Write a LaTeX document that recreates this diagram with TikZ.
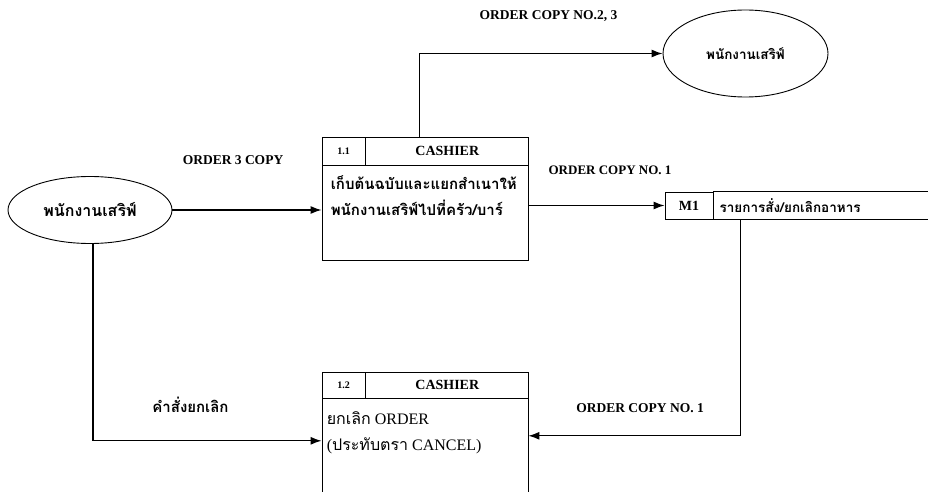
\documentclass[tikz,border=0pt]{standalone}
\usepackage{fontspec}
\setmainfont{Liberation Serif}
\newfontfamily\thai[Script=Thai]{Loma}
\usetikzlibrary{arrows.meta,positioning,shapes.geometric}

\tikzset{
  actor/.style={draw, ellipse, line width=0.9pt, inner sep=0pt},
  cell/.style={draw, rectangle, line width=0.8pt, inner sep=0pt, font=\bfseries\fontsize{14}{16}\selectfont},
  flow/.style={line width=1.3pt, -{Latex[length=11pt,width=8pt]}},
  tag/.style={font=\bfseries\fontsize{13.5}{15}\selectfont},
  thaitext/.style={align=left, inner sep=0pt, font=\thai\bfseries\fontsize{15}{26}\selectfont}
}

\begin{document}
\begin{tikzpicture}[x=1pt,y=-1pt]
  % Page frame
  \clip (0,0) rectangle (928,492);
  % Draw the two waiter terminals
  \node[actor, minimum width=164pt, minimum height=67pt,
        font=\thai\bfseries\fontsize{16}{18}\selectfont] (waiter) at (90,210) {พนักงานเสริฟ์};
  \node[actor, minimum width=165pt, minimum height=87pt,
        font=\thai\bfseries\fontsize{13.5}{15}\selectfont] (waiterout) at (745.5,53.5) {พนักงานเสริฟ์};
  % Process 1.1
  \node[cell, minimum width=43pt, minimum height=28pt, font=\bfseries\fontsize{10}{12}\selectfont] (p11id) at (343.5,151) {1.1};
  \node[cell, minimum width=163pt, minimum height=28pt, right=0pt of p11id] (p11title) {CASHIER};
  \node[cell, minimum width=206pt, minimum height=95pt, below right=0pt and 0pt of p11id.south west] (p11body) {};
  \node[thaitext, anchor=north west] (p11text) at ([xshift=9pt,yshift=-10pt]p11body.north west)
       {เก็บต้นฉบับและแยกสำเนาให้\\พนักงานเสริฟ์ไปที่ครัว/บาร์};
  % Data store M1
  \node[cell, minimum width=48pt, minimum height=27pt] (m1id) at (689,205.5) {M1};
  \node[anchor=west, inner sep=0pt, font=\thai\bfseries\fontsize{13.5}{16}\selectfont] (m1name)
       at ([xshift=6pt]m1id.east) {รายการสั่ง/ยกเลิกอาหาร};
  \draw[line width=0.8pt] (m1id.north east) -- ++(240,0);
  \draw[line width=0.8pt] (m1id.south east) -- ++(240,0);
  % Process 1.2
  \node[cell, minimum width=43pt, minimum height=26pt, font=\bfseries\fontsize{10}{12}\selectfont] (p12id) at (343.5,385) {1.2};
  \node[cell, minimum width=163pt, minimum height=26pt, right=0pt of p12id] (p12title) {CASHIER};
  \node[cell, minimum width=206pt, minimum height=120pt, below right=0pt and 0pt of p12id.south west] (p12body) {};
  \node[align=left, inner sep=0pt, anchor=north west, font=\fontsize{16}{26}\selectfont] (p12text)
       at ([xshift=5pt,yshift=-13pt]p12body.north west)
       {{\thai ยกเลิก} ORDER\\({\thai ประทับตรา} CANCEL)};
  % Data flows
  \draw[flow] (waiter.east) -- (waiter.east -| p11body.west);
  \draw[flow] ([xshift=-28pt]p11title.north) |- (waiterout.west);
  \draw[flow] (m1id.west -| p11body.east) -- (m1id.west);
  \draw[flow] ([xshift=27pt]m1id.south east) |- ([yshift=23pt]p12body.east);
  \draw[flow] ([xshift=3pt]waiter.south) |- ([yshift=18pt]p12body.west);
  % Flow labels
  \node[tag] (lblcopy23) at (548.5,16) {ORDER COPY NO.2, 3};
  \node[tag] (lblorder3) at (233,160) {ORDER 3 COPY};
  \node[tag, font=\bfseries\fontsize{13}{15}\selectfont] (lblcopy1a) at (610,170) {ORDER COPY NO. 1};
  \node[tag] (lblcopy1b) at (640,408) {ORDER COPY NO. 1};
  \node[font=\thai\bfseries\fontsize{15}{16}\selectfont] (lblcancel) at (190.5,405) {คำสั่งยกเลิก};
\end{tikzpicture}
\end{document}
